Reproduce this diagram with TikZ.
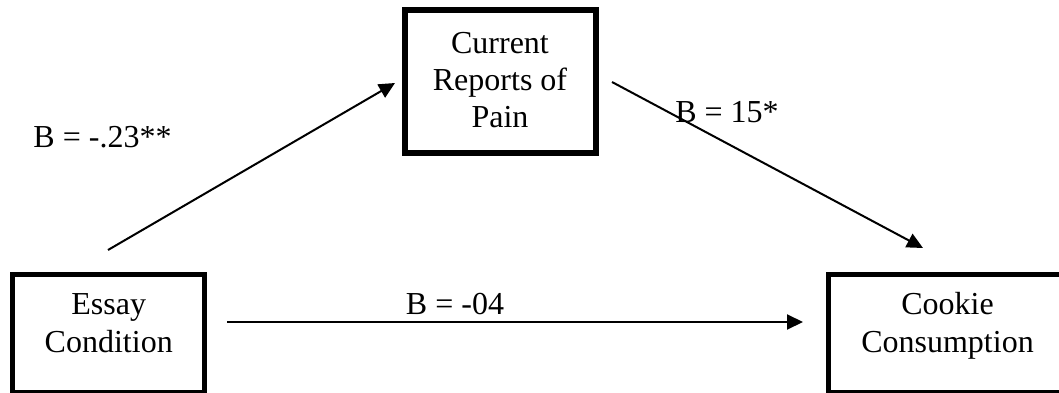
\documentclass[tikz,border=0pt]{standalone}
\usepackage{fontspec}
\setmainfont{Liberation Serif}
\usetikzlibrary{arrows.meta,calc}
\begin{document}
\begin{tikzpicture}[x=1pt,y=-1pt,
  box/.style={draw, line width=5.5pt, inner sep=0pt, outer sep=0pt},
  txt/.style={font=\fontsize{32}{38}\selectfont, align=center, inner sep=0pt, anchor=north},
  coef/.style={font=\fontsize{32}{38}\selectfont, inner sep=0pt, anchor=base},
  conn/.style={line width=2pt, -{Triangle[length=16pt,width=15pt]}}]
\useasboundingbox (0,0) rectangle (1059,393);
\clip (0,0) rectangle (1059,393);

% variable boxes
\node[box, minimum width=191pt, minimum height=143pt] (pain) at (500.5,81.5) {};
\node[box, minimum width=192pt, minimum height=118.5pt] (essay) at (108.5,333.75) {};
\node[box, minimum width=260pt, minimum height=118.5pt] (cookie) at (958.5,333.75) {};

% box texts
\node[txt, font=\fontsize{32}{37}\selectfont] (paintxt) at (500,32) {Current\\Reports of\\Pain};
\node[txt] (essaytxt) at (108.75,293) {Essay\\Condition};
\node[txt] (cookietxt) at (947.5,292.5) {Cookie\\Consumption};

% paths
\draw[conn] ($(essay.north)+(-0.5,-24.5)$) -- ($(pain.west)+(-10,1.5)$);
\draw[conn] ($(pain.east)+(16,0.5)$) -- ($(cookie.north west)+(94.5,-26.5)$);
\draw[conn] ($(essay.north east)+(22.5,47.5)$) -- ($(cookie.north west)+(-25.5,47.5)$);

% coefficients
\node[coef] (ca) at (102.5,147) {B = -.23**};
\node[coef] (cb) at (727,123) {B = 15*};
\node[coef] (cc) at (455,314) {B = -04};
\end{tikzpicture}
\end{document}
